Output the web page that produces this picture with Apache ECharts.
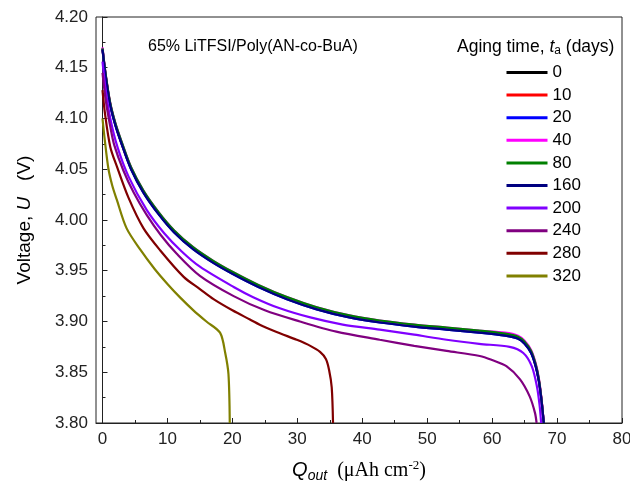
<!DOCTYPE html>
<html>
<head>
<meta charset="utf-8">
<script src="https://cdn.jsdelivr.net/npm/echarts@6/dist/echarts.min.js"></script>
<style>
html, body { margin: 0; padding: 0; background: #fff; }
#chart { width: 630px; height: 486px; }
</style>
</head>
<body>
<div id="chart"></div>
<script>
// aging times (legend)
var agingNames = ['0', '10', '20', '40', '80', '160', '200', '240', '280', '320'];
var lineColors = ['#000000', '#ff0000', '#0000ff', '#ff00ff', '#008000', '#000080', '#8000ff', '#800080', '#800000', '#808000'];

// Q_out (uAh cm-2) shared by the fresh / slightly aged cells
var qMain = [0, 0.5, 1.2, 2.0, 3.0, 4.4, 6.3, 8.6, 11, 14, 17, 20, 24, 28.4, 33, 38, 42.7, 48, 53, 58, 62, 64, 65, 66, 66.7, 67.2, 67.6, 67.95];
var u0   = [4.169, 4.142, 4.114, 4.094, 4.075, 4.051, 4.028, 4.007, 3.989, 3.972, 3.959, 3.948, 3.935, 3.923, 3.913, 3.905, 3.900, 3.896, 3.893, 3.890, 3.887, 3.884, 3.879, 3.870, 3.857, 3.842, 3.823, 3.800];
var u10  = [4.168, 4.142, 4.114, 4.094, 4.074, 4.051, 4.028, 4.007, 3.989, 3.972, 3.959, 3.948, 3.935, 3.923, 3.913, 3.905, 3.900, 3.896, 3.893, 3.890, 3.887, 3.884, 3.879, 3.870, 3.857, 3.842, 3.823, 3.800];
var u20  = [4.168, 4.141, 4.113, 4.093, 4.074, 4.050, 4.027, 4.006, 3.988, 3.971, 3.958, 3.947, 3.934, 3.922, 3.912, 3.904, 3.899, 3.895, 3.892, 3.889, 3.886, 3.883, 3.878, 3.869, 3.856, 3.841, 3.822, 3.800];
var u40  = [4.170, 4.143, 4.115, 4.095, 4.076, 4.052, 4.029, 4.008, 3.990, 3.973, 3.960, 3.949, 3.936, 3.924, 3.914, 3.906, 3.901, 3.897, 3.894, 3.891, 3.889, 3.886, 3.881, 3.872, 3.859, 3.844, 3.824, 3.800];
var u80  = [4.169, 4.143, 4.115, 4.095, 4.076, 4.052, 4.029, 4.008, 3.990, 3.973, 3.960, 3.949, 3.936, 3.924, 3.914, 3.906, 3.901, 3.897, 3.894, 3.891, 3.888, 3.885, 3.880, 3.871, 3.858, 3.843, 3.823, 3.800];
var u160 = [4.168, 4.141, 4.113, 4.093, 4.074, 4.050, 4.027, 4.006, 3.988, 3.971, 3.958, 3.947, 3.934, 3.922, 3.912, 3.904, 3.899, 3.895, 3.892, 3.889, 3.886, 3.883, 3.878, 3.869, 3.856, 3.841, 3.822, 3.800];

var q200 = [0, 0.5, 1.2, 2.3, 4, 6.8, 9.5, 12.2, 15, 20.2, 23.2, 27.3, 32, 37, 42.7, 48, 53, 58, 62.7, 64.8, 66.1, 66.9, 67.3, 67.55];
var u200 = [4.156, 4.128, 4.100, 4.072, 4.043, 4.010, 3.987, 3.969, 3.954, 3.934, 3.924, 3.913, 3.904, 3.897, 3.892, 3.887, 3.882, 3.878, 3.875, 3.869, 3.856, 3.836, 3.818, 3.800];

var q240 = [0, 0.5, 1.2, 1.8, 3.2, 4.8, 6.8, 9, 11.4, 15, 20.2, 25, 30.4, 36, 42.7, 48, 53, 58.1, 60, 62.2, 64.3, 65.8, 66.6, 66.85];
var u240 = [4.145, 4.118, 4.092, 4.074, 4.049, 4.027, 4.005, 3.985, 3.967, 3.945, 3.925, 3.911, 3.900, 3.890, 3.882, 3.876, 3.871, 3.866, 3.862, 3.856, 3.843, 3.826, 3.810, 3.800];

var q280 = [0, 0.4, 1.2, 2.2, 4.0, 6.3, 8.9, 12.5, 15, 17.1, 20, 22.7, 24.8, 27.5, 29.9, 32, 33.5, 34.4, 34.9, 35.3, 35.5];
var u280 = [4.128, 4.104, 4.072, 4.053, 4.022, 3.992, 3.970, 3.944, 3.932, 3.922, 3.911, 3.902, 3.895, 3.888, 3.882, 3.876, 3.870, 3.863, 3.852, 3.835, 3.800];

var q320 = [0, 0.35, 0.9, 1.5, 2.2, 3.7, 5.8, 8, 10, 11.9, 14, 16, 18.1, 18.9, 19.4, 19.6];
var u320 = [4.100, 4.079, 4.051, 4.034, 4.020, 3.992, 3.971, 3.952, 3.937, 3.924, 3.911, 3.900, 3.889, 3.869, 3.848, 3.800];

// axis ticks
var xMajor = [0, 10, 20, 30, 40, 50, 60, 70, 80];
var xMinor = [5, 15, 25, 35, 45, 55, 65, 75];

var qList = [qMain, qMain, qMain, qMain, qMain, qMain, q200, q240, q280, q320];
var uList = [u0, u10, u20, u40, u80, u160, u200, u240, u280, u320];

function pairs(q, u) {
	return q.map(function (x, i) { return [x, u[i]]; });
}

var font = 'Liberation Sans, Arial, sans-serif';
var serif = 'Liberation Serif, Times New Roman, serif';
var axisColor = '#222';

var myChart = echarts.init(document.getElementById('chart'), null, { renderer: 'canvas' });

var series = agingNames.map(function (name, i) {
	return {
		name: name,
		type: 'line',
		xAxisIndex: 0,
		symbol: 'none',
		smooth: 0.3,
		lineStyle: { color: lineColors[i], width: 2.2 },
		itemStyle: { color: lineColors[i] },
		data: pairs(qList[i], uList[i])
	};
});

var option = {
	animation: false,
	backgroundColor: '#fff',
	textStyle: { fontFamily: font },
	title: [
		{
			text: '65% LiTFSI/Poly(AN-co-BuA)',
			left: 148,
			top: 39,
			padding: 0,
			textStyle: { fontFamily: font, fontSize: 16, fontWeight: 'normal', color: '#000' }
		},
		{
			text: 'Aging time, {it|t}{sub|a} (days)',
			left: 457,
			top: 37,
			padding: 0,
			textStyle: {
				fontFamily: font, fontSize: 17.5, fontWeight: 'normal', color: '#000',
				rich: {
					it: { fontFamily: font, fontSize: 17.5, fontStyle: 'italic', color: '#000' },
					sub: { fontFamily: font, fontSize: 12, color: '#000', padding: [8, 0, 0, 0] }
				}
			}
		}
	],
	legend: {
		orient: 'vertical',
		left: 505,
		top: 64,
		padding: 0,
		itemWidth: 41,
		itemHeight: 16,
		itemGap: 5.6,
		data: agingNames,
		itemStyle: { opacity: 0 },
		lineStyle: { width: 3 },
		textStyle: { fontFamily: font, fontSize: 17, color: '#000', lineHeight: 16 }
	},
	grid: {
		left: 96,
		right: 8,
		top: 17,
		bottom: 63,
		outerBoundsMode: 'none',
		show: true,
		borderColor: axisColor,
		borderWidth: 1
	},
	xAxis: [
		{
			type: 'value',
			min: -1,
			max: 80,
			position: 'bottom',
			axisLine: { show: true, lineStyle: { color: axisColor, width: 1 } },
			axisTick: { show: true, inside: true, length: 5, customValues: xMajor, lineStyle: { color: axisColor } },
			axisLabel: { customValues: xMajor, fontSize: 17, color: '#222', margin: 8, fontFamily: font },
			splitLine: { show: false },
			name: '{q|Q}{sub|out}   {tm|(μAh cm}{sup|-2}{tm|)}',
			nameLocation: 'middle',
			nameGap: 35,
			nameTextStyle: {
				rich: {
					q: { fontFamily: font, fontSize: 20, fontStyle: 'italic', color: '#000' },
					sub: { fontFamily: font, fontSize: 14, fontStyle: 'italic', color: '#000', padding: [11, 0, 0, 0] },
					tm: { fontFamily: serif, fontSize: 20, color: '#000' },
					sup: { fontFamily: serif, fontSize: 13, color: '#000', padding: [0, 0, 10, 0] }
				}
			}
		},
		{
			type: 'value',
			min: -1,
			max: 80,
			position: 'bottom',
			axisLine: { show: false },
			axisTick: { show: true, inside: true, length: 3, customValues: xMinor, lineStyle: { color: axisColor } },
			axisLabel: { show: false },
			splitLine: { show: false }
		}
	],
	yAxis: {
		type: 'value',
		min: 3.8,
		max: 4.2,
		interval: 0.05,
		axisLine: { show: true, lineStyle: { color: axisColor, width: 1 } },
		axisTick: { show: true, inside: true, length: 5, lineStyle: { color: axisColor } },
		minorTick: { show: true, splitNumber: 2, length: 3, lineStyle: { color: axisColor } },
		axisLabel: {
			fontSize: 17, color: '#222', margin: 8, fontFamily: font,
			formatter: function (v) { return v.toFixed(2); }
		},
		splitLine: { show: false },
		name: 'Voltage, {u|U}   (V)',
		nameLocation: 'middle',
		nameGap: 62,
		nameTextStyle: {
			fontFamily: font, fontSize: 19, color: '#000',
			rich: {
				u: { fontFamily: font, fontSize: 19, fontStyle: 'italic', color: '#000' }
			}
		}
	},
	series: series
};

myChart.setOption(option);
</script>
</body>
</html>
